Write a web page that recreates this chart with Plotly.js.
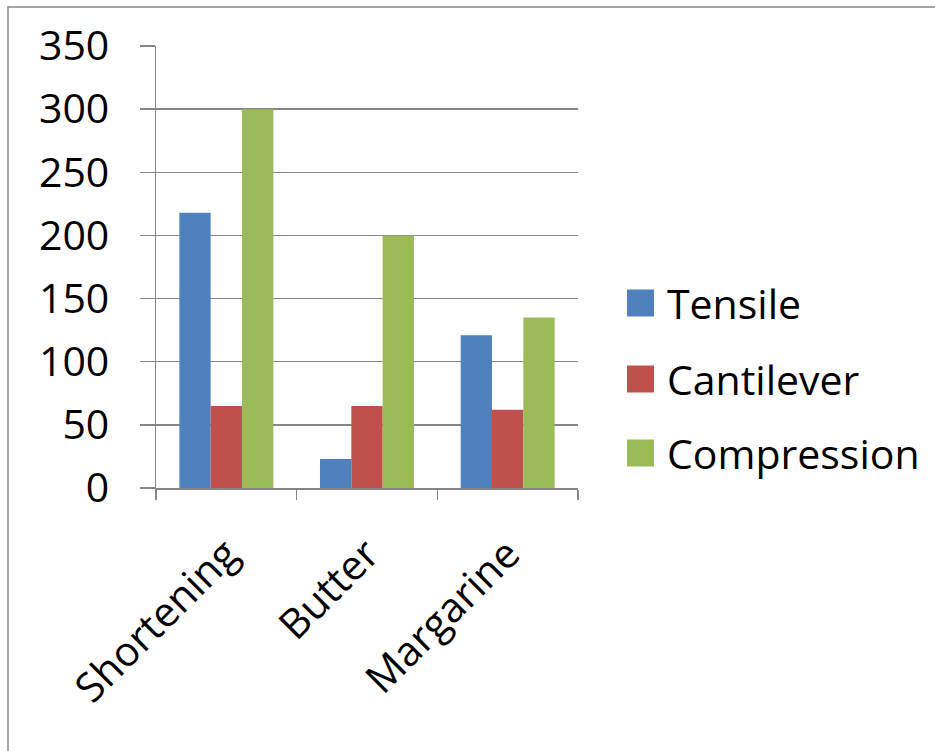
<!DOCTYPE html>
<html>
<head>
<meta charset="utf-8">
<script src="https://cdn.plot.ly/plotly-3.0.1.min.js"></script>
<style>html,body{margin:0;padding:0;background:#fff;}#chart{width:935px;height:751px;}</style>
</head>
<body>
<div id="chart"></div>
<script>
const categories = ["Shortening", "Butter", "Margarine"];
const seriesNames = ["Tensile", "Cantilever", "Compression"];
const tensile = [218, 23, 121];
const cantilever = [65, 65, 62];
const compression = [300, 200, 135];
const seriesColors = ["#4F81BD", "#C0504D", "#9BBB59"];
const yTicks = [0, 50, 100, 150, 200, 250, 300, 350];

const values = [tensile, cantilever, compression];
const FONT = "Open Sans, Noto Sans, sans-serif";
const W = 935, H = 751;
const M = {l: 156, r: 357, t: 46, b: 263};
const PW = W - M.l - M.r, PH = H - M.t - M.b;
const px2x = p => (p - M.l) / PW;
const py2y = p => (H - M.b - p) / PH;

const traces = seriesNames.map((n, i) => ({
  type: "bar",
  name: n,
  x: categories,
  y: values[i],
  marker: {color: seriesColors[i], line: {width: 0}},
  hoverinfo: "x+y+name"
}));

const shapes = [
  {type: "rect", xref: "paper", yref: "paper",
   x0: px2x(8), x1: px2x(960), y0: py2y(7), y1: py2y(780),
   line: {color: "#878787", width: 1.5}, fillcolor: "rgba(0,0,0,0)", layer: "below"}
];
const annotations = [];
const legendY = [303, 379, 453];
seriesNames.forEach((n, i) => {
  shapes.push({type: "rect", xref: "paper", yref: "paper",
    x0: px2x(627), x1: px2x(654), y0: py2y(legendY[i] + 13.5), y1: py2y(legendY[i] - 13.5),
    line: {width: 0}, fillcolor: seriesColors[i]});
  annotations.push({xref: "paper", yref: "paper", x: px2x(665), y: py2y(legendY[i]),
    xanchor: "left", yanchor: "middle", showarrow: false, text: n,
    font: {family: FONT, size: 41, color: "#000"}});
});

const layout = {
  width: W, height: H,
  margin: M,
  paper_bgcolor: "#fff", plot_bgcolor: "#fff",
  barmode: "group", bargap: 0.332, bargroupgap: 0,
  showlegend: false,
  font: {family: FONT, color: "#000"},
  xaxis: {
    type: "category",
    tickson: "boundaries",
    ticks: "outside", ticklen: 10, tickwidth: 1.5, tickcolor: "#878787",
    showline: true, linecolor: "#878787", linewidth: 1.5,
    showgrid: false, tickangle: -45,
    ticklabelstandoff: 24,
    tickfont: {family: FONT, size: 41, color: "#000"},
    zeroline: false
  },
  yaxis: {
    range: [0, 350],
    tickvals: yTicks,
    ticktext: yTicks.map(String),
    ticks: "outside", ticklen: 15, tickwidth: 1.5, tickcolor: "#878787",
    showline: true, linecolor: "#878787", linewidth: 1.5,
    showgrid: true, gridcolor: "#878787", gridwidth: 1.5,
    zeroline: false,
    ticklabelstandoff: 22,
    tickfont: {family: FONT, size: 41, color: "#000"}
  },
  shapes: shapes,
  annotations: annotations
};

Plotly.newPlot("chart", traces, layout, {displayModeBar: false, staticPlot: true});
</script>
</body>
</html>
